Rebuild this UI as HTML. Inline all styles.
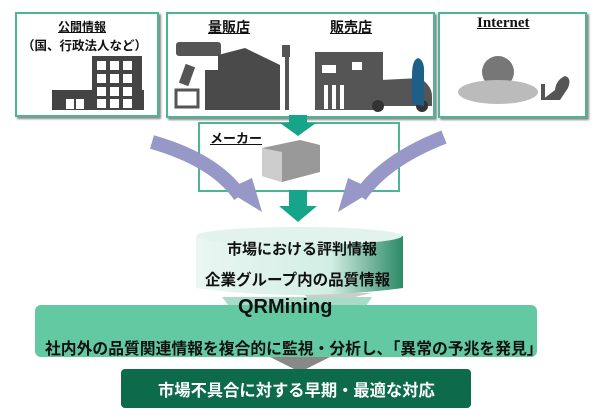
<!DOCTYPE html>
<html><head><meta charset="utf-8"><style>
body{margin:0;width:600px;height:419px;background:#fff;overflow:hidden;position:relative;font-family:"Liberation Sans","Noto Sans CJK JP",sans-serif;font-weight:bold;color:#111}
.box{position:absolute;border:2px solid #4bb596;box-shadow:2px 2px 2px #888;background:#fff}
.t{position:absolute;white-space:nowrap;text-decoration:underline}
</style></head><body>
<div class="box" style="left:15px;top:12px;width:140px;height:101px"></div>
<div class="box" style="left:166px;top:12px;width:265px;height:102px"></div>
<div class="box" style="left:438px;top:12px;width:145px;height:102px"></div>
<div class="box" style="left:198px;top:122px;width:198px;height:66px;box-shadow:none"></div>
<svg width="600" height="419" style="position:absolute;left:0;top:0">
<rect x="52" y="90" width="92" height="20" fill="#444"/><rect x="92" y="56" width="50" height="54" fill="#444"/>
<g fill="#fff"><rect x="97" y="61" width="9" height="9"/><rect x="110" y="61" width="9" height="9"/><rect x="123" y="61" width="9" height="9"/>
<rect x="97" y="74" width="9" height="9"/><rect x="110" y="74" width="9" height="9"/><rect x="123" y="74" width="9" height="9"/>
<rect x="97" y="87" width="9" height="9"/><rect x="110" y="87" width="9" height="9"/><rect x="123" y="87" width="9" height="9"/>
<rect x="97" y="99" width="9" height="9"/><rect x="110" y="99" width="9" height="9"/><rect x="123" y="99" width="9" height="9"/>
<rect x="66" y="99" width="8" height="10"/><rect x="76" y="99" width="8" height="10"/></g>
<rect x="176" y="42" width="45" height="14" rx="3" fill="#555"/>
<rect x="182" y="65" width="10" height="20" fill="#555" transform="rotate(20 187 75)"/>
<rect x="176" y="90" width="22" height="17" fill="#fff" stroke="#555" stroke-width="3"/>
<path d="M205 110 V70 H218 V55 L245 48 L280 65 V110Z" fill="#4a4a4a"/>
<rect x="282" y="45" width="8" height="12" fill="#555"/><rect x="285" y="55" width="4" height="55" fill="#555"/>
<rect x="315" y="52" width="68" height="58" fill="#555"/>
<g fill="#fff"><rect x="322" y="65" width="14" height="8"/><rect x="352" y="62" width="10" height="8"/><rect x="324" y="85" width="4" height="24"/><rect x="332" y="85" width="4" height="24"/><rect x="340" y="85" width="4" height="24"/></g>
<path d="M355 100 Q360 86 380 80 L420 78 Q432 86 432 96 V106 H355Z" fill="#555"/>
<circle cx="378" cy="106" r="6" fill="#333"/><circle cx="422" cy="106" r="6" fill="#333"/>
<path d="M412 104 V75 Q412 60 418 58 Q425 60 424 75 V106Z" fill="#1e5f8a"/>
<circle cx="498" cy="72" r="16" fill="#777"/>
<ellipse cx="498" cy="92" rx="40" ry="12" fill="#bbb"/>
<path d="M542 100 H560 L568 88 Q572 78 565 76 Q556 80 555 90 Z" fill="#555"/><rect x="541" y="84" width="4" height="16" fill="#555"/>
<path d="M262 148 L300 140 L320 145 V172 L282 182 L262 176Z" fill="#999"/><path d="M262 148 L282 152 V182 L262 176Z" fill="#ccc"/>
<path d="M289 115 H307 V123 H316 L298 136 L280 123 H289Z" fill="#16a588"/>
<path d="M289 190 H307 V206 H317 L298 222 L279 206 H289Z" fill="#16a588"/>
<path d="M152 142 Q215 160 240 196" stroke="#9898c8" stroke-width="14" fill="none"/>
<path d="M226 190 L262 212 L252 178Z" fill="#9898c8"/>
<path d="M444 137 Q385 160 360 196" stroke="#9898c8" stroke-width="14" fill="none"/>
<path d="M374 190 L338 212 L348 178Z" fill="#9898c8"/>
<defs><linearGradient id="cg" x1="0" x2="1"><stop offset="0" stop-color="#eaf6f2"/><stop offset="0.65" stop-color="#d2eee4"/><stop offset="1" stop-color="#2c8a67"/></linearGradient></defs>
<path d="M301 293 L372 293 L320 305 Z" fill="#ccc"/>
<path d="M196 236 V288 Q299 302 403 288 V236Z" fill="url(#cg)"/>
<ellipse cx="299" cy="236" rx="103" ry="9" fill="#e2f3ed"/>
<path d="M222 297 H372 L360 315 H236Z" fill="#a8dcc8"/>
<rect x="35" y="305" width="502" height="52" rx="6" fill="#62c9a2"/>
<path d="M270 357 H330 L300 372Z" fill="#888"/>
<rect x="121" y="369" width="350" height="39" rx="4" fill="#0d6b4c"/>
</svg>
<div class="t" style="left:58px;top:18px;font-size:12px">公開情報</div>
<div class="t" style="left:22px;top:35px;font-size:12.5px;text-decoration:none">（国、行政法人など）</div>
<div class="t" style="left:208px;top:17px;font-size:14px">量販店</div>
<div class="t" style="left:330px;top:17px;font-size:14px">販売店</div>
<div class="t" style="left:477px;top:15px;font-size:15px;font-family:'Liberation Serif',serif">Internet</div>
<div class="t" style="left:210px;top:128px;font-size:13px">メーカー</div>
<div class="t" style="left:227px;top:238px;font-size:15px;text-decoration:none">市場における評判情報</div>
<div class="t" style="left:205px;top:268px;font-size:15.5px;text-decoration:none">企業グループ内の品質情報</div>
<div class="t" style="left:238px;top:296px;font-size:20px;text-decoration:none">QRMining</div>
<div class="t" style="left:45px;top:336px;font-size:15.8px;text-decoration:none">社内外の品質関連情報を複合的に監視・分析し､「異常の予兆を発見」</div>
<div class="t" style="left:158px;top:377px;font-size:16.3px;color:#fff;text-decoration:none">市場不具合に対する早期・最適な対応</div>
</body></html>
